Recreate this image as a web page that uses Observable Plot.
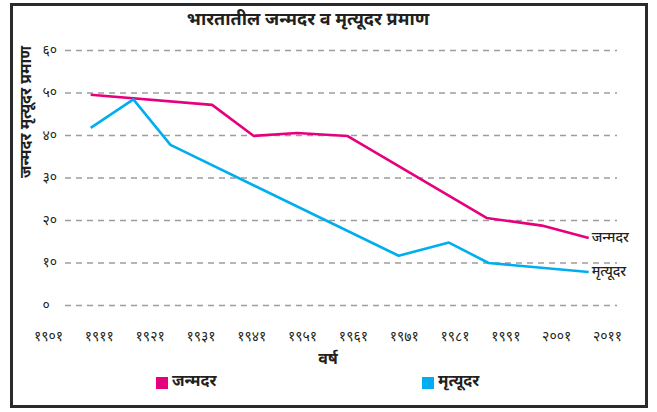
<!DOCTYPE html>
<html>
<head>
<meta charset="utf-8">
<script src="https://cdn.jsdelivr.net/npm/d3@7"></script>
<script src="https://cdn.jsdelivr.net/npm/@observablehq/plot@0.6"></script>
<style>
  html, body { margin: 0; padding: 0; background: #fff; }
  body { font-family: "Noto Sans Devanagari", "Lohit Devanagari", "Noto Sans", "DejaVu Sans", sans-serif; color: #231f20; }
  #wrap { position: relative; width: 657px; height: 412px; overflow: hidden; }
  #frame { position: absolute; left: 10px; top: 3px; width: 632px; height: 399px; border: 3px solid #2a2a2a; box-sizing: content-box; }
  #title { position: absolute; left: 0; top: 7px; width: 616px; text-align: center; font-size: 18px; font-weight: bold; line-height: 28px; }
  #chart { position: absolute; left: 0; top: 40px; }
  .leg { position: absolute; top: 372px; font-size: 16px; font-weight: bold; line-height: 22px; display: flex; align-items: center; }
  .sw { width: 12px; height: 12px; display: inline-block; margin-right: 4px; }
</style>
</head>
<body>
<div id="wrap">
  <div id="frame"></div>
  <div id="title"></div>
  <div id="chart"></div>
  <div class="leg" id="leg1" style="left:156px"></div>
  <div class="leg" id="leg2" style="left:422px"></div>
</div>
<script>
// ---- Data ----
const titleText = "भारतातील जन्मदर व मृत्यूदर प्रमाण";
const yAxisTitle = "जन्मदर मृत्यूदर प्रमाण";
const xAxisTitle = "वर्ष";
const seriesNames = ["जन्मदर", "मृत्यूदर"];
const seriesColors = ["#e6007e", "#00aeef"];

const xTickYears = [1901, 1911, 1921, 1931, 1941, 1951, 1961, 1971, 1981, 1991, 2001, 2011];
const xTickLabels = ["१९०१", "१९११", "१९२१", "१९३१", "१९४१", "१९५१", "१९६१", "१९७१", "१९८१", "१९९१", "२००१", "२०११"];
const yTickValues = [0, 10, 20, 30, 40, 50, 60];
const yTickLabels = ["०", "१०", "२०", "३०", "४०", "५०", "६०"];

// birth rate (जन्मदर)
const birthYears = [1909.3, 1933.2, 1941.4, 1949.9, 1959.8, 1987.2, 1998.1, 2007.3];
const birthRates = [49.6, 47.2, 39.9, 40.6, 39.9, 20.6, 18.8, 15.9];
// death rate (मृत्यूदर)
const deathYears = [1909.3, 1917.7, 1925.0, 1969.9, 1979.8, 1987.6, 2007.3];
const deathRates = [41.8, 48.5, 37.8, 11.7, 14.8, 10.0, 7.9];

// ---- Build tables ----
const birth = birthYears.map((y, i) => ({year: y, value: birthRates[i], series: seriesNames[0]}));
const death = deathYears.map((y, i) => ({year: y, value: deathRates[i], series: seriesNames[1]}));
const all = birth.concat(death);
const lastPoints = [birth[birth.length - 1], death[death.length - 1]];

const font = '"Noto Sans Devanagari", "Lohit Devanagari", "Noto Sans", "DejaVu Sans", sans-serif';

const chart = Plot.plot({
  width: 657,
  height: 330,
  marginLeft: 48,
  marginRight: 50,
  marginTop: 10,
  marginBottom: 65,
  style: {fontFamily: font, fontSize: "12px", color: "#231f20", background: "transparent", overflow: "visible"},
  x: {domain: [1901, 2011], axis: null},
  y: {domain: [0, 60], axis: null},
  color: {domain: seriesNames, range: seriesColors},
  marks: [
    Plot.ruleY(yTickValues, {stroke: "#9d9d9d", strokeWidth: 1.5, strokeDasharray: "6,5", insetLeft: 17, insetRight: -10}),
    Plot.text(xTickYears, {x: d => d, frameAnchor: "bottom", dy: 35, text: (d, i) => xTickLabels[i], fontSize: 14, fill: "#231f20"}),
    Plot.text(yTickValues, {y: d => d, frameAnchor: "left", dx: -6, textAnchor: "start", text: (d, i) => yTickLabels[i], fontSize: 14, fill: "#231f20"}),
    Plot.text([yAxisTitle], {frameAnchor: "left", dx: -23, rotate: -90, fontSize: 16, fontWeight: "bold", fill: "#231f20"}),
    Plot.text([xAxisTitle], {frameAnchor: "bottom", dy: 58, fontSize: 16, fontWeight: "bold", fill: "#231f20"}),
    Plot.line(all, {x: "year", y: "value", z: "series", stroke: "series", strokeWidth: 2.6, strokeLinejoin: "round", strokeLinecap: "butt"}),
    Plot.text(lastPoints, {x: "year", y: "value", text: "series", textAnchor: "start", dx: 3, fontSize: 14, fontWeight: "500", fill: "#231f20"})
  ]
});
document.getElementById("chart").appendChild(chart);
document.getElementById("title").textContent = titleText;
[["leg1", 0], ["leg2", 1]].forEach(([id, i]) => {
  const el = document.getElementById(id);
  const sw = document.createElement("span");
  sw.className = "sw";
  sw.style.background = seriesColors[i];
  el.appendChild(sw);
  el.appendChild(document.createTextNode(seriesNames[i]));
});
</script>
</body>
</html>
